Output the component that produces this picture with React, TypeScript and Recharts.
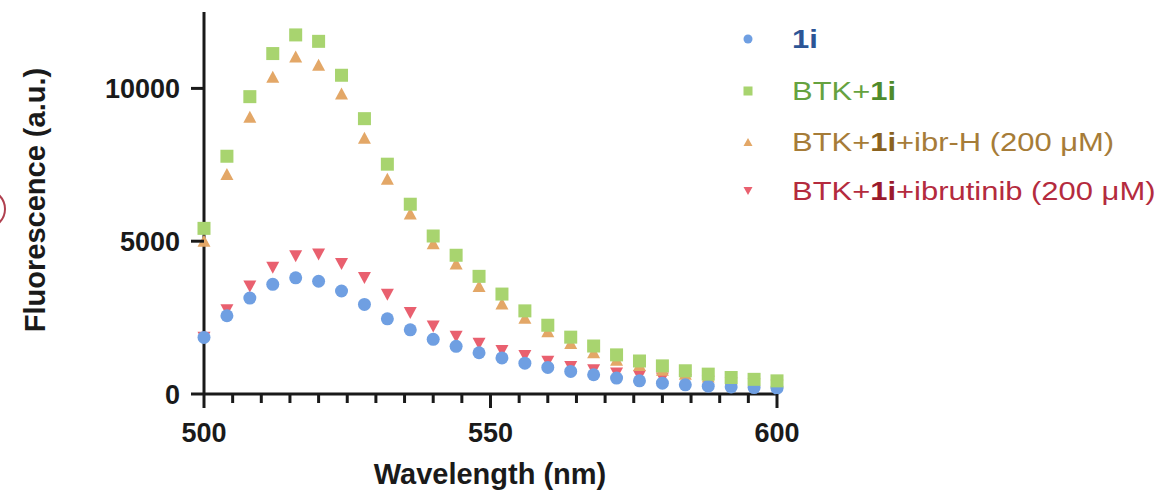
import React from "react"
import { ScatterChart, Scatter, XAxis, YAxis } from "recharts"

const wavelength = [500, 504, 508, 512, 516, 520, 524, 528, 532, 536, 540, 544, 548, 552, 556, 560, 564, 568, 572, 576, 580, 584, 588, 592, 596, 600]

const probe1i = [1850, 2560, 3140, 3590, 3800, 3690, 3370, 2930, 2460, 2100, 1790, 1560, 1350, 1180, 1010, 870, 740, 630, 520, 430, 355, 300, 255, 230, 210, 190]
const btk1i = [5420, 7780, 9730, 11140, 11750, 11540, 10430, 9010, 7520, 6210, 5170, 4540, 3850, 3270, 2720, 2250, 1860, 1570, 1280, 1080, 920, 760, 650, 540, 480, 430]
const btkIbrH = [4980, 7170, 9040, 10350, 11010, 10740, 9800, 8350, 7010, 5870, 4900, 4240, 3500, 2930, 2460, 2020, 1640, 1330, 1090, 920, 760, 630, 540, 450, 405, 360]
const btkIbrutinib = [1870, 2770, 3550, 4160, 4540, 4600, 4290, 3830, 3280, 2680, 2240, 1910, 1680, 1440, 1280, 1090, 920, 810, 700, 615, 540, 485, 430, 375, 340, 300]

const xTicks = [500, 505, 510, 515, 520, 525, 530, 535, 540, 545, 550, 555, 560, 565, 570, 575, 580, 585, 590, 595, 600]
const xLabels = [500, 550, 600]
const yTicks = [0, 5000, 10000]

const BLUE = "#6f9fe2"
const GREEN = "#a8d46f"
const ORANGE = "#e3a767"
const RED = "#e9606f"
const INK = "#1a1a1a"
const FONT = "'Liberation Sans', Arial, sans-serif"

const toPoints = (ys: number[]) => wavelength.map((x, i) => ({ x, y: ys[i] }))

const dot = (p: any) => <circle cx={p.cx} cy={p.cy} r={6.5} fill={BLUE} />
const square = (p: any) => <rect x={p.cx - 6.5} y={p.cy - 6.5} width={13} height={13} fill={GREEN} />
const triUp = (p: any) => (
  <polygon points={`${p.cx - 6.5},${p.cy + 5} ${p.cx + 6.5},${p.cy + 5} ${p.cx},${p.cy - 7}`} fill={ORANGE} />
)
const triDown = (p: any) => (
  <polygon points={`${p.cx - 6.5},${p.cy - 5} ${p.cx + 6.5},${p.cy - 5} ${p.cx},${p.cy + 7}`} fill={RED} />
)

function XTick(props: any) {
  const { x, y, payload } = props
  const major = xLabels.includes(payload.value)
  return (
    <g>
      <line x1={x} x2={x} y1={y} y2={y + (major ? 14 : 9)} stroke={INK} strokeWidth={3} />
      {major && (
        <text x={x} y={y + 48} textAnchor="middle" fill={INK} fontSize={27} fontWeight="bold" fontFamily={FONT}>
          {payload.value}
        </text>
      )}
    </g>
  )
}

function YTick(props: any) {
  const { x, y, payload } = props
  return (
    <g>
      <line x1={x} x2={x - 13} y1={y} y2={y} stroke={INK} strokeWidth={3} />
      <text x={x - 24} y={y} dy="0.36em" textAnchor="end" fill={INK} fontSize={27} fontWeight="bold" fontFamily={FONT}>
        {payload.value}
      </text>
    </g>
  )
}

const legendRows = [
  { color: "#2c5596", bold: "#2c5596", pre: "", post: "", mark: "circle" },
  { color: "#66a23f", bold: "#4f8b2b", pre: "BTK+", post: "", mark: "square" },
  { color: "#a67c38", bold: "#8a6220", pre: "BTK+", post: "+ibr-H (200 μM)", mark: "up" },
  { color: "#b42b3e", bold: "#9a1a2c", pre: "BTK+", post: "+ibrutinib (200 μM)", mark: "down" },
]

function LegendMark({ mark }: { mark: string }) {
  return (
    <svg width={12} height={12} style={{ position: "absolute", left: -6, top: -6 }}>
      {mark === "circle" && <circle cx={6} cy={6} r={4.5} fill={BLUE} />}
      {mark === "square" && <rect x={1.5} y={1.5} width={9} height={9} fill={GREEN} />}
      {mark === "up" && <polygon points="1.5,10 10.5,10 6,2" fill={ORANGE} />}
      {mark === "down" && <polygon points="1.5,2 10.5,2 6,10" fill={RED} />}
    </svg>
  )
}

export default function App() {
  const rowY = [39, 91, 142, 191]
  return (
    <div style={{ position: "absolute", left: 0, top: 0, width: 1165, height: 490, background: "#fff", overflow: "hidden" }}>
      <ScatterChart width={1165} height={490} margin={{ top: 12, right: 388, bottom: 66, left: 144 }}>
        <XAxis
          type="number"
          dataKey="x"
          domain={[500, 600]}
          ticks={xTicks}
          interval={0}
          height={30}
          tickSize={0}
          tickMargin={0}
          tickLine={false}
          axisLine={{ stroke: INK, strokeWidth: 3 }}
          tick={<XTick />}
          label={{
            value: "Wavelength (nm)",
            content: () => (
              <text x={490} y={484} textAnchor="middle" fill={INK} fontSize={29} fontWeight="bold" fontFamily={FONT}>
                Wavelength (nm)
              </text>
            ),
          }}
        />
        <YAxis
          type="number"
          dataKey="y"
          domain={[0, 12500]}
          ticks={yTicks}
          width={60}
          tickSize={0}
          tickMargin={0}
          tickLine={false}
          axisLine={{ stroke: INK, strokeWidth: 3 }}
          tick={<YTick />}
          label={{
            value: "Fluorescence (a.u.)",
            content: () => (
              <text
                x={45}
                y={200}
                transform="rotate(-90 45 200)"
                textAnchor="middle"
                fill={INK}
                fontSize={29}
                fontWeight="bold"
                fontFamily={FONT}
              >
                Fluorescence (a.u.)
              </text>
            ),
          }}
        />
        <Scatter name="BTK+1i+ibrutinib (200 μM)" data={toPoints(btkIbrutinib)} shape={triDown} isAnimationActive={false} />
        <Scatter name="BTK+1i+ibr-H (200 μM)" data={toPoints(btkIbrH)} shape={triUp} isAnimationActive={false} />
        <Scatter name="1i" data={toPoints(probe1i)} shape={dot} isAnimationActive={false} />
        <Scatter name="BTK+1i" data={toPoints(btk1i)} shape={square} isAnimationActive={false} />
      </ScatterChart>

      {legendRows.map((r, i) => (
        <div key={i} style={{ position: "absolute", left: 0, top: rowY[i] }}>
          <div style={{ position: "absolute", left: 748, top: 0 }}>
            <LegendMark mark={r.mark} />
          </div>
          <div
            style={{
              position: "absolute",
              left: 792,
              top: -15,
              whiteSpace: "nowrap",
              fontFamily: FONT,
              fontSize: 26,
              lineHeight: "30px",
              color: r.color,
              transform: "scaleX(1.19)",
              transformOrigin: "left center",
            }}
          >
            {r.pre}
            <span style={{ fontWeight: "bold", color: r.bold }}>1i</span>
            {r.post}
          </div>
        </div>
      ))}

      <div
        style={{
          position: "absolute",
          left: -34,
          top: 189,
          width: 36,
          height: 36,
          borderRadius: "50%",
          border: "2px solid #b0404f",
        }}
      />
    </div>
  )
}
